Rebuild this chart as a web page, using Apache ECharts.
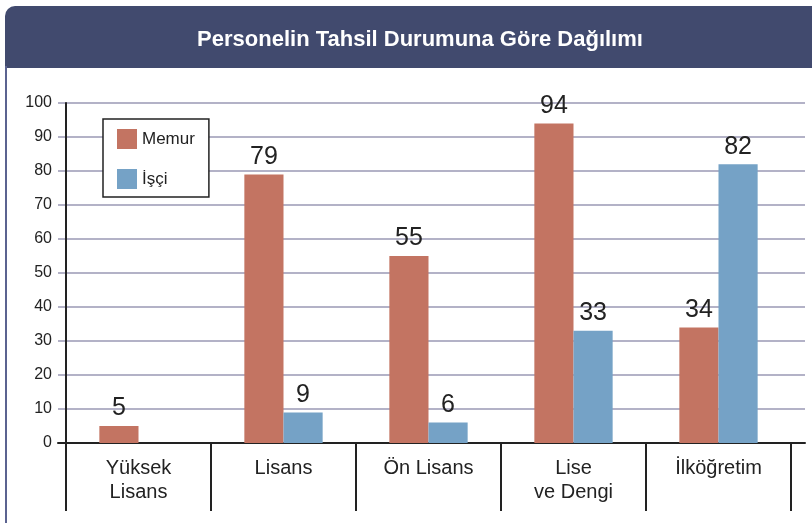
<!DOCTYPE html>
<html>
<head>
<meta charset="utf-8">
<script src="https://cdn.jsdelivr.net/npm/echarts@6/dist/echarts.min.js"></script>
<style>
html,body{margin:0;padding:0;background:#fff;}
#chart{width:812px;height:523px;}
</style>
</head>
<body>
<div id="chart"></div>
<script>
const titleText = 'Personelin Tahsil Durumuna Göre Dağılımı';
const categories = ['Yüksek\nLisans', 'Lisans', 'Ön Lisans', 'Lise\nve Dengi', 'İlköğretim'];
const seriesNames = ['Memur', 'İşçi'];
const memurValues = [5, 79, 55, 94, 34];
const isciValues = [null, 9, 6, 33, 82];
const yTicks = { min: 0, max: 100, interval: 10 };

const FONT = '"Liberation Sans", Arial, sans-serif';
const chart = echarts.init(document.getElementById('chart'));

const labelStyle = {
  show: true, position: 'top', distance: 5,
  fontSize: 25, color: '#222', fontFamily: FONT
};

chart.setOption({
  animation: false,
  backgroundColor: '#fff',
  graphic: [
    { type: 'rect', z: 0, shape: { x: 5, y: 6, width: 807, height: 62, r: [10, 0, 0, 0] }, style: { fill: '#414a6e' } },
    { type: 'rect', z: 0, shape: { x: 5, y: 66, width: 2, height: 457 }, style: { fill: '#5b6390' } }
  ],
  title: {
    text: titleText, left: 415, top: 24, textAlign: 'center',
    textStyle: { color: '#fff', fontSize: 22, fontWeight: 'bold', fontFamily: FONT }
  },
  legend: {
    orient: 'vertical', left: 103, top: 119,
    data: seriesNames,
    icon: 'rect', itemWidth: 20, itemHeight: 20, itemGap: 20,
    borderColor: '#222', borderWidth: 1.5,
    padding: [10, 14, 8, 14],
    backgroundColor: '#fff',
    textStyle: { fontSize: 17, color: '#222', fontFamily: FONT }
  },
  grid: [
    { left: 66, right: 21, top: 103, bottom: 80 },
    { left: 58, right: 7, top: 103, bottom: 80 }
  ],
  xAxis: [
    {
      type: 'category', gridIndex: 0, data: categories,
      axisLine: { show: false },
      axisTick: { show: true, interval: 0, length: 68, lineStyle: { color: '#222', width: 2 } },
      axisLabel: { interval: 0, margin: 13, fontSize: 20, lineHeight: 24, color: '#222', fontFamily: FONT, verticalAlign: 'top' }
    },
    {
      type: 'value', gridIndex: 1, min: 0, max: 1,
      axisLine: { show: true, onZero: false, lineStyle: { color: '#222', width: 2 } },
      axisTick: { show: false }, axisLabel: { show: false }, splitLine: { show: false }
    }
  ],
  yAxis: [
    {
      type: 'value', gridIndex: 0, min: yTicks.min, max: yTicks.max, interval: yTicks.interval,
      axisLine: { show: true, lineStyle: { color: '#222', width: 2 } },
      axisTick: { show: false },
      splitLine: { show: false },
      axisLabel: { margin: 14, fontSize: 16, color: '#222', fontFamily: FONT }
    },
    {
      type: 'value', gridIndex: 1, min: yTicks.min, max: yTicks.max, interval: yTicks.interval,
      axisLine: { show: false }, axisTick: { show: false }, axisLabel: { show: false },
      splitLine: { show: true, lineStyle: { color: '#9a98b4', width: 1.5 } }
    }
  ],
  series: [
    {
      name: seriesNames[0], type: 'bar', xAxisIndex: 0, yAxisIndex: 0,
      data: memurValues, barGap: '0%', barCategoryGap: '46%',
      itemStyle: { color: '#c37462' }, label: labelStyle, z: 3
    },
    {
      name: seriesNames[1], type: 'bar', xAxisIndex: 0, yAxisIndex: 0,
      data: isciValues, barGap: '0%', barCategoryGap: '46%',
      itemStyle: { color: '#75a2c6' }, label: labelStyle, z: 3
    }
  ]
});
</script>
</body>
</html>
